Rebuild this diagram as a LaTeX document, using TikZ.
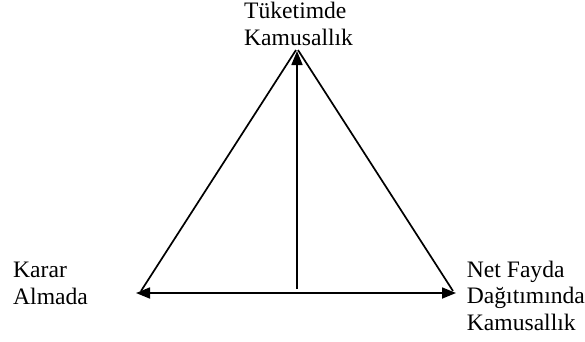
\documentclass[tikz,border=0pt]{standalone}
\usepackage{fontspec}
\setmainfont{Liberation Serif}
\usetikzlibrary{arrows.meta}
\tikzset{
  lbl/.style={inner sep=0pt,anchor=north west,align=left,font=\fontsize{23.6}{26.6}\selectfont},
  side/.style={draw=black,line width=1.7pt},
  flow/.style={-{Triangle[length=14pt,width=11pt]},draw=black,line width=1.7pt},
  twoway/.style={{Triangle[length=14pt,width=11pt]}-{Triangle[length=14pt,width=11pt]},draw=black,line width=1.7pt}
}

\begin{document}
\begin{tikzpicture}[x=1pt,y=-1pt]
\useasboundingbox (0,0) rectangle (585,341);
% corners of the triangle
\coordinate (apexl) at (296,50);
\coordinate (apexr) at (298,50);
\coordinate (basel) at (141,291);
\coordinate (baser) at (453,291);
\coordinate (tipl) at (136,293);
\coordinate (tipr) at (456,293);
\coordinate (tipt) at (297,51);
\coordinate (foot) at (297,289);
% labels
\node[lbl] (tuketim) at (244,2.4) {Tüketimde\\Kamusallık};
\node[lbl] (karar) at (13,262.2) {Karar\\Almada};
\node[lbl] (netfayda) at (466.7,260.8) {Net Fayda\\Dağıtımında\\Kamusallık};
% sides and arrows
\draw[side] (apexl)--(basel);
\draw[side] (apexr)--(baser);
\draw[twoway] (tipl)--(tipr);
\draw[flow] (foot)--(tipt);
\end{tikzpicture}
\end{document}
